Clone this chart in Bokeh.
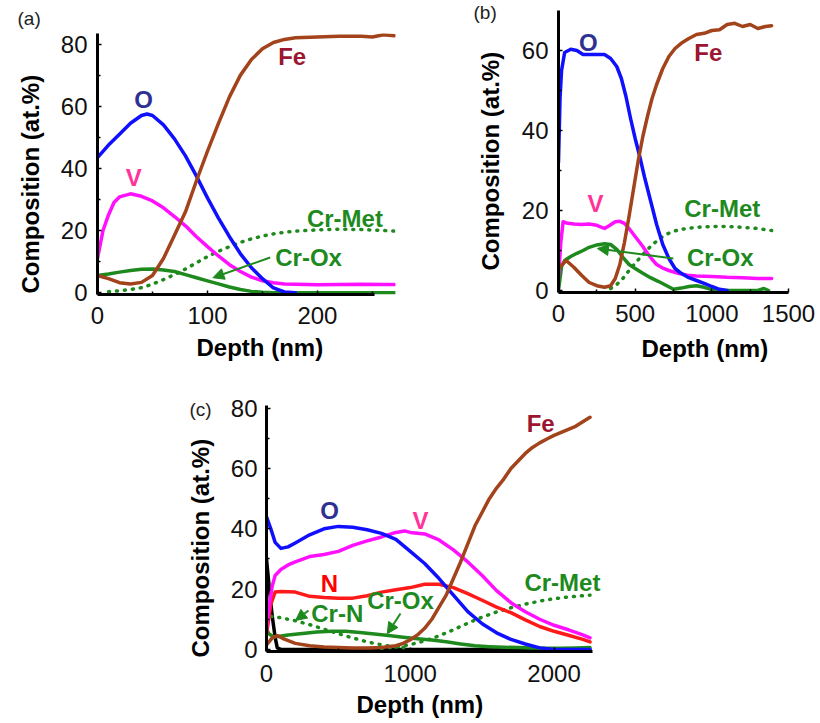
from bokeh.plotting import figure
from bokeh.layouts import row, column, Spacer
from bokeh.models import Range1d, Label, Arrow, NormalHead, FixedTicker, Title
from bokeh.embed import file_html
from bokeh.resources import INLINE

# ---------------- data: panel (a) ----------------
a_O_x = [0, 10, 20, 30, 40, 45, 50, 60, 70, 80, 90, 100, 110, 120, 130, 140, 150, 160, 170, 180]
a_O = [43.5, 47.5, 51, 54.5, 57, 57.5, 57, 54, 49.5, 44, 37.5, 30.5, 24, 18, 12.5, 8, 4.5, 1.5, 0.2, 0]
a_Fe_x = [0, 10, 20, 30, 40, 50, 60, 70, 80, 90, 100, 110, 120, 130, 140, 150, 160, 170, 180, 200, 220, 240, 250, 260, 270]
a_Fe = [5.5, 4.5, 3.2, 2.8, 3.3, 5.5, 11, 18.5, 26, 36, 45.5, 54.5, 63, 70, 75, 78.5, 80.5, 81.5, 82, 82.3, 82.5, 82.5, 82.3, 83, 82.7]
a_V_x = [0, 5, 10, 15, 20, 30, 40, 50, 60, 70, 80, 90, 100, 110, 120, 130, 140, 150, 160, 170, 180, 200, 220, 240, 260, 270]
a_V = [11, 20, 25, 29, 30.8, 31.8, 31, 29.5, 27.3, 24.5, 21.5, 18, 14.8, 11.8, 9, 6.8, 5, 3.8, 3.2, 2.8, 2.7, 2.5, 2.6, 2.7, 2.6, 2.6]
a_CrOx_x = [0, 10, 20, 30, 40, 50, 60, 70, 80, 90, 100, 110, 120, 130, 140, 150, 160, 270]
a_CrOx = [5.5, 6, 6.6, 7.1, 7.5, 7.6, 7.3, 6.8, 5.8, 4.8, 3.8, 2.8, 1.8, 1.0, 0.4, 0.1, 0, 0]
a_CrMet_x = [10, 20, 30, 40, 50, 60, 70, 80, 90, 100, 110, 120, 130, 140, 150, 160, 170, 180, 200, 220, 240, 260, 270]
a_CrMet = [0.3, 0.6, 1, 1.6, 2.7, 4.2, 5.8, 7.6, 9.6, 11.6, 13.3, 14.8, 16.2, 17.3, 18.2, 18.9, 19.4, 19.8, 20.2, 20.4, 20.3, 20, 19.8]

# ---------------- data: panel (b) ----------------
b_O_x = [0, 10, 20, 40, 80, 120, 160, 200, 250, 300, 340, 380, 410, 440, 470, 500, 530, 560, 600, 640, 680, 720, 760, 800, 850, 900, 950, 1000, 1050, 1100]
b_O = [32, 48, 55, 59.5, 60.3, 60, 59, 59, 59, 59, 58, 56, 53, 48.5, 43, 38, 33.5, 28.5, 22.5, 16.5, 11.5, 8, 5.5, 4.3, 3.2, 2.5, 1.8, 1, 0.3, 0]
b_Fe_x = [0, 50, 100, 150, 200, 250, 300, 340, 370, 400, 430, 460, 490, 520, 550, 580, 610, 640, 680, 720, 760, 800, 850, 900, 950, 1000, 1050, 1100, 1150, 1200, 1250, 1300, 1350, 1390]
b_Fe = [5.5, 7.5, 5.8, 3.8, 2, 1.2, 0.8, 1.2, 3, 6.5, 12, 18.5, 25.5, 32.5, 38.5, 43.5, 48, 51.5, 55.5, 58.5, 60.5, 61.8, 63, 64, 64.3, 65, 65.2, 66.5, 66.8, 66, 66.5, 65.5, 66, 66.2]
b_V_x = [0, 15, 30, 60, 100, 150, 200, 250, 300, 330, 370, 400, 430, 460, 490, 520, 550, 580, 610, 640, 680, 720, 780, 840, 900, 1000, 1100, 1200, 1300, 1390]
b_V = [3, 12, 17.2, 16.8, 16.6, 16.5, 16.6, 16.3, 15.5, 16.2, 17.2, 17.3, 16.8, 15.5, 14, 12.5, 11, 9.3, 7.8, 6.5, 5.6, 5, 4.3, 3.8, 3.6, 3.5, 3.3, 3.2, 3.0, 3.0]
b_CrOx_x = [0, 20, 40, 80, 120, 160, 200, 250, 300, 340, 380, 420, 460, 500, 550, 600, 650, 700, 750, 800, 850, 900, 950, 1000, 1050, 1300, 1340, 1370]
b_CrOx = [0, 6, 7.5, 8.5, 9.3, 10, 10.8, 11.4, 11.7, 11.5, 10.3, 8.3, 6.5, 5.5, 4.3, 3.2, 2.3, 1.3, 0.3, 0.6, 1.0, 1.2, 0.8, 0.2, 0, 0, 0.5, 0]
b_CrMet_x = [340, 380, 420, 460, 500, 550, 600, 650, 700, 750, 800, 900, 1000, 1100, 1200, 1300, 1390]
b_CrMet = [0.5, 1.5, 3, 5, 6.8, 9, 11, 12.7, 14, 14.8, 15.3, 15.8, 16, 16, 15.8, 15.5, 15]

# ---------------- data: panel (c) ----------------
c_O_x = [0, 30, 60, 100, 150, 200, 300, 400, 500, 600, 700, 800, 900, 1000, 1100, 1200, 1300, 1400, 1500, 1600, 1700, 1800, 1900, 2000, 2250]
c_O = [44, 40, 35.5, 33.5, 34, 35.3, 38, 40, 40.8, 40.5, 39.7, 38.5, 36.5, 32.5, 28.5, 23.5, 18, 12.5, 8.5, 5.5, 3.3, 1.8, 0.5, 0, 0]
c_V_x = [0, 20, 40, 60, 100, 150, 200, 300, 400, 500, 600, 700, 800, 900, 960, 1000, 1100, 1200, 1300, 1400, 1500, 1600, 1700, 1800, 1900, 2000, 2100, 2200, 2250]
c_V = [7, 15, 21, 24.5, 26.5, 28, 29, 30.8, 31.5, 32.5, 34.5, 36, 37.3, 38.8, 39.3, 38.8, 38.3, 36.3, 33, 29, 24.5, 19.5, 15.5, 12.5, 10, 8, 6.5, 4.8, 3.8]
c_N_x = [0, 30, 60, 100, 200, 300, 400, 500, 600, 700, 800, 900, 1000, 1100, 1200, 1300, 1400, 1500, 1600, 1700, 1800, 1900, 2000, 2100, 2200, 2250]
c_N = [5, 15, 19, 19.2, 19, 17.6, 17.2, 17, 17, 17.8, 19, 19.8, 20.5, 21.6, 21.6, 20.5, 18.5, 16.3, 14, 12.2, 9.8, 7.6, 6, 4.7, 3.3, 2.5]
c_Fe_x = [0, 40, 75, 120, 200, 300, 400, 500, 600, 700, 800, 900, 950, 1000, 1050, 1100, 1150, 1200, 1250, 1300, 1350, 1400, 1450, 1500, 1550, 1600, 1650, 1700, 1750, 1800, 1850, 1900, 1950, 2000, 2100, 2150, 2200, 2250]
c_Fe = [1.5, 3.8, 4.6, 3.5, 2, 1.2, 0.8, 0.6, 0.5, 0.5, 0.6, 1.2, 2, 3.2, 4.8, 7, 10, 14, 18, 23.5, 29, 35, 41, 45.5, 50, 53.5, 56.5, 60, 62.5, 65, 67, 68.5, 69.8, 71, 73, 74, 75.5, 77]
c_CrOx_x = [0, 20, 50, 80, 150, 250, 350, 450, 550, 650, 750, 850, 950, 1050, 1150, 1250, 1350, 1450, 1550, 1650, 1750, 1850, 1950, 2050, 2150, 2250]
c_CrOx = [6.5, 5, 4.2, 4.3, 4.8, 5.3, 5.8, 6, 6, 5.6, 5.1, 4.6, 4, 3.5, 3.1, 2.5, 1.8, 1.2, 0.9, 0.7, 0.6, 0.5, 0.4, 0.4, 0.5, 0.6]
c_CrN_x = [30, 100, 200, 300, 400, 500, 600, 700, 800, 900, 1000]
c_CrN = [11, 10.5, 9.5, 8.2, 6.7, 5.2, 3.8, 2.5, 1.5, 0.8, 0.4]
c_CrMet_x = [800, 900, 1000, 1100, 1200, 1300, 1400, 1500, 1600, 1700, 1800, 1900, 2000, 2100, 2200, 2250]
c_CrMet = [0.3, 0.8, 1.6, 2.8, 4.5, 6.5, 8.7, 10.7, 12.4, 13.8, 15, 16, 16.8, 17.4, 17.8, 18]
c_blk_x = [0, 20, 40, 60, 75, 100, 2250]
c_blk = [30, 20, 11, 4, 0.5, 0, 0]

# ---------------- tick values and texts ----------------
a_xticks = [0, 100, 200]
b_xticks = [0, 500, 1000, 1500]
c_xticks = [0, 1000, 2000]
a_yticks = [0, 20, 40, 60, 80]
b_yticks = [0, 20, 40, 60]
c_yticks = [0, 20, 40, 60, 80]
X_TITLE = "Depth (nm)"
Y_TITLE = "Composition (at.%)"

# ---------------- styles ----------------
FONT = "Liberation Sans"
C_O = "#1010FF"
C_FE = "#A3431B"
C_V = "#FF10FF"
C_N = "#FF1A1A"
C_CR = "#1E8A1E"
L_FE = "#9B1630"
L_O = "#2E3192"
L_V = "#FF3399"
L_N = "#FF0000"
LW = 3.5


def make_fig(w, h, xr, yr, bl, br, bt, bb, xticks, yticks, xminor, yminor, xls, yls):
    p = figure(width=w, height=h, x_range=Range1d(*xr), y_range=Range1d(*yr),
               output_backend="svg", toolbar_location=None,
               min_border_left=bl, min_border_right=br,
               min_border_top=bt, min_border_bottom=bb)
    p.grid.visible = False
    p.outline_line_color = None
    p.xaxis.ticker = FixedTicker(ticks=xticks, minor_ticks=xminor)
    p.yaxis.ticker = FixedTicker(ticks=yticks, minor_ticks=yminor)
    for ax in (p.xaxis[0], p.yaxis[0]):
        ax.axis_line_width = 3
        ax.axis_line_color = "black"
        ax.major_tick_in = 4
        ax.major_tick_out = 0
        ax.minor_tick_in = 3
        ax.minor_tick_out = 0
        ax.major_tick_line_width = 1.5
        ax.minor_tick_line_width = 1.5
        ax.major_label_text_font = FONT
        ax.major_label_text_font_size = "24px"
        ax.major_label_text_color = "#111111"
    p.xaxis.major_label_standoff = xls
    p.yaxis.major_label_standoff = yls
    return p


def set_standoff(t, s):
    try:
        t.standoff = s
    except Exception:
        t.standoff = 0


def panel_letter(p, text, offset, standoff):
    t = p.title
    t.text = text
    t.align = "left"
    t.offset = offset
    t.text_font = FONT
    t.text_font_size = "19px"
    t.text_font_style = "normal"
    t.text_color = "#222222"
    set_standoff(t, standoff)


def axis_titles(p, xoff, xstand, yoff, ystand, yvalign=None):
    tx = Title(text=X_TITLE, align="left", offset=xoff, text_font=FONT,
               text_font_size="24px", text_font_style="bold", text_color="black")
    set_standoff(tx, xstand)
    p.add_layout(tx, "below")
    ty = Title(text=Y_TITLE, align="left", offset=yoff, text_font=FONT,
               text_font_size="24px", text_font_style="bold", text_color="black")
    if yvalign is not None:
        ty.vertical_align = yvalign
    set_standoff(ty, ystand)
    p.add_layout(ty, "left")


def lab(p, x, y, text, color):
    p.add_layout(Label(x=x, y=y, text=text, text_color=color, text_font=FONT,
                       text_font_size="24px", text_font_style="bold",
                       text_align="center", text_baseline="middle"))


def arrow(p, x0, y0, x1, y1):
    p.add_layout(Arrow(end=NormalHead(size=11, fill_color=C_CR, line_color=C_CR),
                       x_start=x0, y_start=y0, x_end=x1, y_end=y1,
                       line_color=C_CR, line_width=2))


def solid(p, x, y, c):
    p.line(x, y, line_color=c, line_width=LW, line_join="round", line_cap="round")


def dotted(p, x, y, c):
    p.line(x, y, line_color=c, line_width=LW, line_dash="1 7", line_cap="round")


# ---------------- panel (a) ----------------
pa = make_fig(420, 385, (0, 271), (-0.6, 83.4), 97, 25, 31, 91,
              a_xticks, a_yticks, [50, 150, 250], [10, 30, 50, 70], 12, 10)
pa.xaxis.bounds = (0, 252)
solid(pa, a_CrOx_x, a_CrOx, C_CR)
dotted(pa, a_CrMet_x, a_CrMet, C_CR)
solid(pa, a_V_x, a_V, C_V)
solid(pa, a_O_x, a_O, C_O)
solid(pa, a_Fe_x, a_Fe, C_FE)
lab(pa, 177, 76, "Fe", L_FE)
lab(pa, 42, 62.3, "O", L_O)
lab(pa, 33, 37, "V", L_V)
lab(pa, 225, 23.8, "Cr-Met", C_CR)
lab(pa, 192, 11.3, "Cr-Ox", C_CR)
arrow(pa, 157, 11.3, 105, 4.8)
panel_letter(pa, "(a)", -80, 10)
axis_titles(pa, 99, 11, 1, 23, "top")

# ---------------- panel (b) ----------------
pb = make_fig(400, 385, (0, 1500), (-0.5, 70), 138, 32, 10, 93,
              b_xticks, b_yticks, [250, 750, 1250], [10, 30, 50], 12, 10)
solid(pb, b_CrOx_x, b_CrOx, C_CR)
dotted(pb, b_CrMet_x, b_CrMet, C_CR)
solid(pb, b_V_x, b_V, C_V)
solid(pb, b_O_x, b_O, C_O)
solid(pb, b_Fe_x, b_Fe, C_FE)
lab(pb, 195, 62, "O", L_O)
lab(pb, 977, 59.5, "Fe", L_FE)
lab(pb, 241, 21.7, "V", L_V)
lab(pb, 1068, 20.5, "Cr-Met", C_CR)
lab(pb, 1055, 8.3, "Cr-Ox", C_CR)
arrow(pb, 749, 8, 254, 10.5)
panel_letter(pb, "(b)", -85, -25)
axis_titles(pb, 83, 16, 22, 30)

# ---------------- panel (c) ----------------
pc = make_fig(441, 338, (0, 2330), (-0.7, 80.9), 96, 10, 20, 72,
              c_xticks, c_yticks, [500, 1500], [10, 30, 50, 70], 13, 9)
pc.xaxis.bounds = (0, 2270)
solid(pc, c_blk_x, c_blk, "black")
solid(pc, c_CrOx_x, c_CrOx, C_CR)
dotted(pc, c_CrN_x, c_CrN, C_CR)
dotted(pc, c_CrMet_x, c_CrMet, C_CR)
solid(pc, c_N_x, c_N, C_N)
solid(pc, c_V_x, c_V, C_V)
solid(pc, c_O_x, c_O, C_O)
solid(pc, c_Fe_x, c_Fe, C_FE)
lab(pc, 438, 46, "O", L_O)
lab(pc, 1072, 42.7, "V", L_V)
lab(pc, 1907, 74.8, "Fe", L_FE)
lab(pc, 438, 21.9, "N", L_N)
lab(pc, 2058, 22.3, "Cr-Met", C_CR)
lab(pc, 492, 11.8, "Cr-N", C_CR)
lab(pc, 932, 16.2, "Cr-Ox", C_CR)
arrow(pc, 292, 12.9, 202, 9.6)
arrow(pc, 932, 11.9, 840, 5.2)
panel_letter(pc, "(c)", -77, -28)
axis_titles(pc, 90, 8, -6, 28)

layout = column(row(column(pa), column(pb)), row(Spacer(width=170, height=338), pc))

open("out.html", "w").write(file_html(layout, INLINE))
